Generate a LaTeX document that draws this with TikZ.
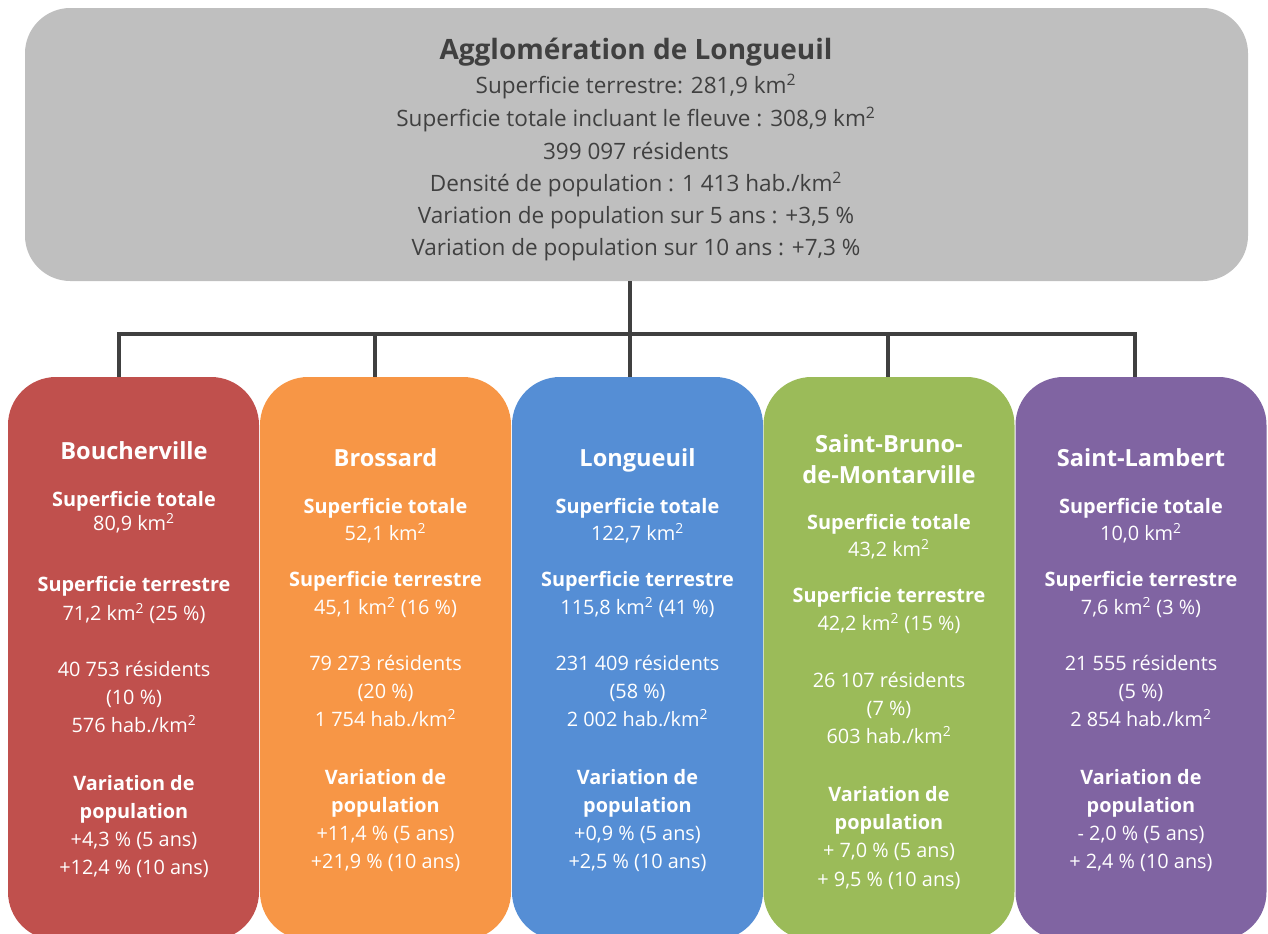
\documentclass[tikz,border=0pt]{standalone}
\usepackage{fontspec}
\setmainfont{Open Sans}
\begin{document}
\begin{tikzpicture}[x=0.75pt,y=-0.75pt,
  box/.style={draw=none,rounded corners=36pt,inner sep=0pt,minimum width=251*0.75pt},
  topbox/.style={draw=none,fill=topgray,rounded corners=34pt,inner sep=0pt,minimum width=1223*0.75pt,minimum height=273*0.75pt},
  conn/.style={draw=linegray,line width=2.3pt},
  ln/.style={inner sep=0pt,text height=1.5ex,text depth=.25ex,anchor=center},
  body/.style={ln,text=white,font=\fontsize{14.9}{17}\selectfont},
  head/.style={ln,text=white,font=\fontsize{14.9}{17}\selectfont\bfseries},
  ttl/.style={ln,text=white,font=\fontsize{17.7}{21}\selectfont\bfseries},
  tbody/.style={ln,text=textgray,font=\fontsize{16.9}{20}\selectfont},
  tttl/.style={ln,text=textgray,font=\fontsize{21}{25}\selectfont\bfseries}]
\definecolor{topgray}{HTML}{BFBFBF}
\definecolor{textgray}{HTML}{404040}
\definecolor{linegray}{HTML}{404040}
\definecolor{cred}{HTML}{C0504D}
\definecolor{corange}{HTML}{F79646}
\definecolor{cblue}{HTML}{558ED5}
\definecolor{cgreen}{HTML}{9BBB59}
\definecolor{cpurple}{HTML}{8064A2}
\newcommand\km{km\textsuperscript{2}}
\useasboundingbox (0,0) rectangle (1268,933);
\clip (0,0) rectangle (1268,933);
% top box
\node[topbox] (top) at (636.5,144.5) {};
% child boxes
\node[box,fill=cred,minimum height=563*0.75pt] (b1) at (133.5,658.5) {};
\node[box,fill=corange,minimum height=563*0.75pt] (b2) at (385.5,658.5) {};
\node[box,fill=cblue,minimum height=563*0.75pt] (b3) at (637.5,658.5) {};
\node[box,fill=cgreen,minimum height=563*0.75pt] (b4) at (889,658.5) {};
\node[box,fill=cpurple,minimum height=563*0.75pt] (b5) at (1141,658.5) {};
% connectors
\coordinate (j1) at (119,334);
\coordinate (j2) at (375,334);
\coordinate (j3) at (630,334);
\coordinate (j4) at (888,334);
\coordinate (j5) at (1135,334);
\draw[conn] (top.south -| j3) -- (j3 |- b3.north);
\draw[conn] (j1 |- b1.north) -- (j1) -- (j5) -- (j5 |- b5.north);
\draw[conn] (j2) -- (j2 |- b2.north);
\draw[conn] (j4) -- (j4 |- b4.north);
% top text
\begin{scope}[yshift=-3.8pt]
\node[tttl] (tt0) at (636,50) {Agglomération de Longueuil};
\node[tbody] (tt1) at (636,84) {Superficie terrestre: 281,9 \km};
\node[tbody] (tt2) at (636,117) {Superficie totale incluant le fleuve : 308,9 \km};
\node[tbody] (tt3) at (636,150) {399 097 résidents};
\node[tbody] (tt4) at (636,182) {Densité de population : 1 413 hab./\km};
\node[tbody] (tt5) at (636,214) {Variation de population sur 5 ans : +3,5 \%};
\node[tbody] (tt6) at (636,246) {Variation de population sur 10 ans : +7,3 \%};
\end{scope}
\begin{scope}[yshift=-2.8pt]
% Boucherville
\node[ttl] (a0) at (134,451) {Boucherville};
\node[head] (a1) at (134,498) {Superficie totale};
\node[body] (a2) at (134,522) {80,9 \km};
\node[head] (a3) at (134,583) {Superficie terrestre};
\node[body] (a4) at (134,612) {71,2 \km{} (25 \%)};
\node[body] (a5) at (134,668) {40 753 résidents};
\node[body] (a6) at (134,696) {(10 \%)};
\node[body] (a7) at (134,724) {576 hab./\km};
\node[head] (a8) at (134,782) {Variation de};
\node[head] (a9) at (134,810) {population};
\node[body] (a10) at (134,838) {+4,3 \% (5 ans)};
\node[body] (a11) at (134,866) {+12,4 \% (10 ans)};
% Brossard
\node[ttl] (c0) at (385.5,458) {Brossard};
\node[head] (c1) at (385.5,505) {Superficie totale};
\node[body] (c2) at (385.5,532) {52,1 \km};
\node[head] (c3) at (385.5,578) {Superficie terrestre};
\node[body] (c4) at (385.5,606) {45,1 \km{} (16 \%)};
\node[body] (c5) at (385.5,662) {79 273 résidents};
\node[body] (c6) at (385.5,690) {(20 \%)};
\node[body] (c7) at (385.5,718) {1 754 hab./\km};
\node[head] (c8) at (385.5,776) {Variation de};
\node[head] (c9) at (385.5,804) {population};
\node[body] (c10) at (385.5,832) {+11,4 \% (5 ans)};
\node[body] (c11) at (385.5,860) {+21,9 \% (10 ans)};
% Longueuil
\node[ttl] (d0) at (637.5,458) {Longueuil};
\node[head] (d1) at (637.5,505) {Superficie totale};
\node[body] (d2) at (637.5,532) {122,7 \km};
\node[head] (d3) at (637.5,578) {Superficie terrestre};
\node[body] (d4) at (637.5,606) {115,8 \km{} (41 \%)};
\node[body] (d5) at (637.5,662) {231 409 résidents};
\node[body] (d6) at (637.5,690) {(58 \%)};
\node[body] (d7) at (637.5,718) {2 002 hab./\km};
\node[head] (d8) at (637.5,776) {Variation de};
\node[head] (d9) at (637.5,804) {population};
\node[body] (d10) at (637.5,832) {+0,9 \% (5 ans)};
\node[body] (d11) at (637.5,860) {+2,5 \% (10 ans)};
% Saint-Bruno
\node[ttl] (e0) at (889,444) {Saint-Bruno-};
\node[ttl] (e0b) at (889,475) {de-Montarville};
\node[head] (e1) at (889,521) {Superficie totale};
\node[body] (e2) at (889,548) {43,2 \km};
\node[head] (e3) at (889,594) {Superficie terrestre};
\node[body] (e4) at (889,622) {42,2 \km{} (15 \%)};
\node[body] (e5) at (889,679) {26 107 résidents};
\node[body] (e6) at (889,707) {(7 \%)};
\node[body] (e7) at (889,735) {603 hab./\km};
\node[head] (e8) at (889,793) {Variation de};
\node[head] (e9) at (889,821) {population};
\node[body] (e10) at (889,849) {+ 7,0 \% (5 ans)};
\node[body] (e11) at (889,878) {+ 9,5 \% (10 ans)};
% Saint-Lambert
\node[ttl] (f0) at (1141,458) {Saint-Lambert};
\node[head] (f1) at (1141,505) {Superficie totale};
\node[body] (f2) at (1141,532) {10,0 \km};
\node[head] (f3) at (1141,578) {Superficie terrestre};
\node[body] (f4) at (1141,606) {7,6 \km{} (3 \%)};
\node[body] (f5) at (1141,662) {21 555 résidents};
\node[body] (f6) at (1141,690) {(5 \%)};
\node[body] (f7) at (1141,718) {2 854 hab./\km};
\node[head] (f8) at (1141,776) {Variation de};
\node[head] (f9) at (1141,804) {population};
\node[body] (f10) at (1141,832) {- 2,0 \% (5 ans)};
\node[body] (f11) at (1141,860) {+ 2,4 \% (10 ans)};
\end{scope}
\end{tikzpicture}
\end{document}
